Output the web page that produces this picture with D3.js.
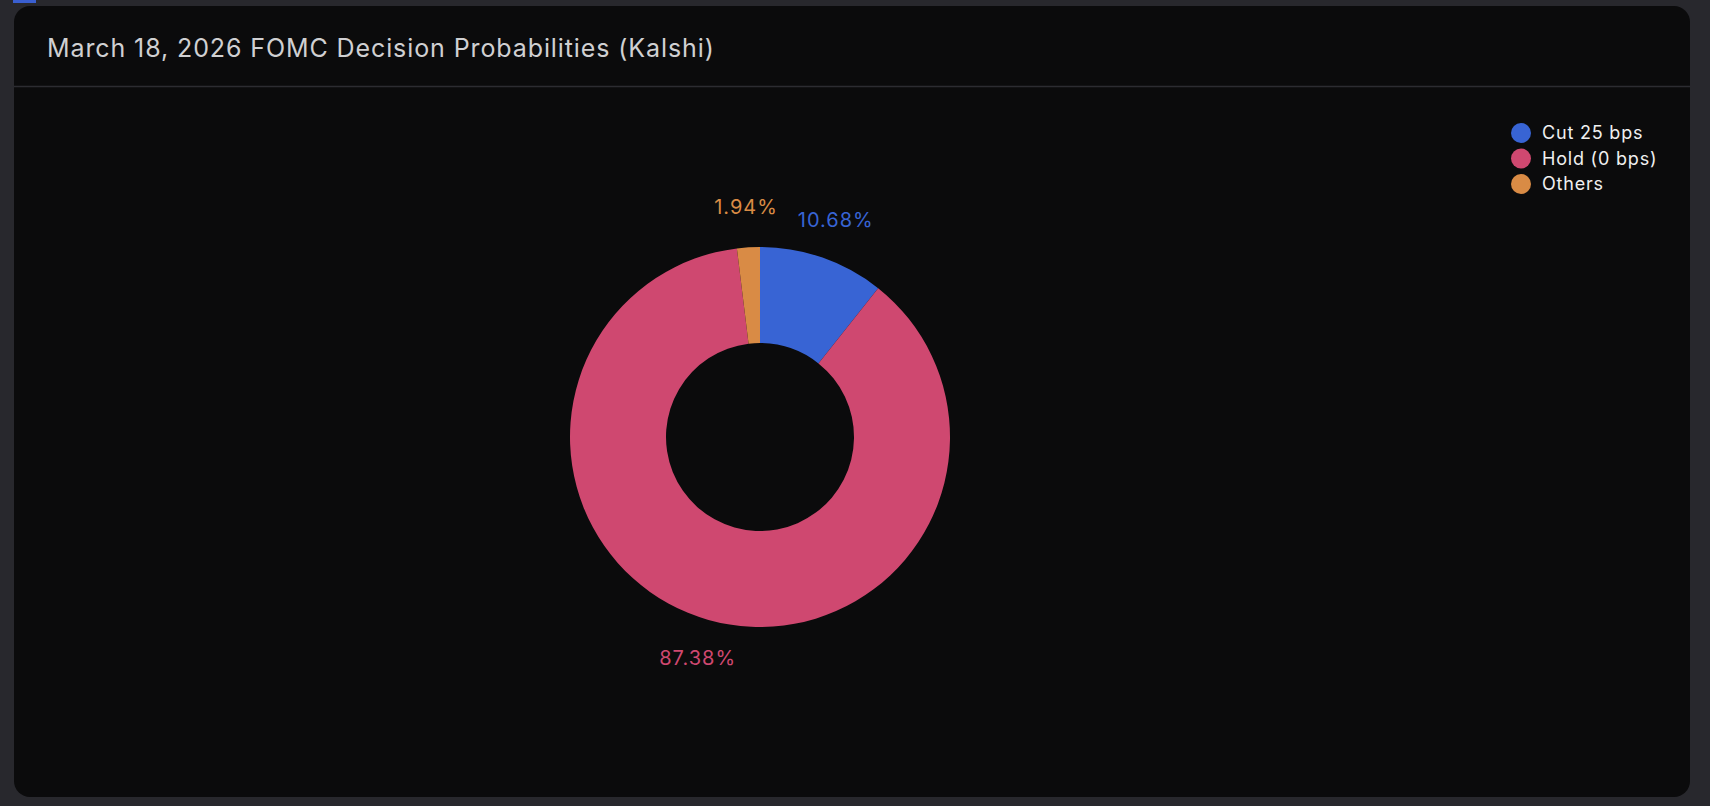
<!DOCTYPE html>
<html>
<head>
<meta charset="utf-8">
<script src="https://cdn.jsdelivr.net/npm/d3@7"></script>
<style>
  html, body { margin: 0; padding: 0; background: #28282d; }
  body { width: 1710px; height: 806px; overflow: hidden; font-family: Inter, "Noto Sans", sans-serif; }
</style>
</head>
<body>
<div class="canvas1"></div>
<script>
// chart data
const categories = ["Cut 25 bps", "Hold (0 bps)", "Others"];
const values = [10.68, 87.38, 1.94];
const colors = ["#3864d4", "#cf4870", "#d98b45"];
const title = "March 18, 2026 FOMC Decision Probabilities (Kalshi)";

const W = 1710, H = 806;
const card = { x: 14, y: 6, w: 1676, h: 791, r: 16 };

const svg = d3.select(".canvas1").append("svg")
    .attr("width", W)
    .attr("height", H);

// little blue tab top-left
svg.append("rect")
  .attr("x", 13).attr("y", 0)
  .attr("width", 23).attr("height", 3)
  .attr("fill", "#3a5fd0");

// card
svg.append("rect")
  .attr("x", card.x).attr("y", card.y)
  .attr("width", card.w).attr("height", card.h)
  .attr("rx", card.r)
  .attr("fill", "#0b0b0c");

// header separator
svg.append("line")
  .attr("x1", card.x).attr("x2", card.x + card.w)
  .attr("y1", 86.5).attr("y2", 86.5)
  .attr("stroke", "#2c2c31")
  .attr("stroke-width", 1.5);

// title
svg.append("text")
  .attr("x", 47)
  .attr("y", 48)
  .attr("dy", "0.35em")
  .style("font-size", "25px")
  .style("letter-spacing", "0.9px")
  .style("fill", "#d0d0d2")
  .text(title);

// donut
const cx = 760, cy = 437;
const outerR = 190, innerR = 94, labelR = 230;

const pie = d3.pie().sort(null).value(d => d.value);
const arc = d3.arc().innerRadius(innerR).outerRadius(outerR);
const labelArc = d3.arc().innerRadius(labelR).outerRadius(labelR);

const data = categories.map((c, i) => ({ name: c, value: values[i], color: colors[i] }));
const arcs = pie(data);

const g = svg.append("g")
    .attr("transform", "translate(" + cx + "," + cy + ")");

g.selectAll("path.slice")
  .data(arcs)
  .enter().append("path")
    .attr("class", "slice")
    .attr("d", arc)
    .attr("fill", d => d.data.color);

g.selectAll("text.lbl")
  .data(arcs)
  .enter().append("text")
    .attr("class", "lbl")
    .attr("transform", d => "translate(" + labelArc.centroid(d) + ")")
    .attr("text-anchor", "middle")
    .attr("dy", "0.35em")
    .style("font-size", "20px")
    .style("letter-spacing", "1px")
    .style("fill", d => d.data.color)
    .text(d => d.data.value.toFixed(2) + "%");

// legend
const legend = svg.append("g")
    .attr("transform", "translate(1521,133)");

const item = legend.selectAll("g")
  .data(data)
  .enter().append("g")
    .attr("transform", (d, i) => "translate(0," + (i * 25.5) + ")");

item.append("circle")
  .attr("r", 10)
  .attr("fill", d => d.color);

item.append("text")
  .attr("x", 21)
  .attr("dy", "0.35em")
  .style("font-size", "18px")
  .style("letter-spacing", "0.8px")
  .style("fill", "#f0f0f0")
  .text(d => d.name);
</script>
</body>
</html>
